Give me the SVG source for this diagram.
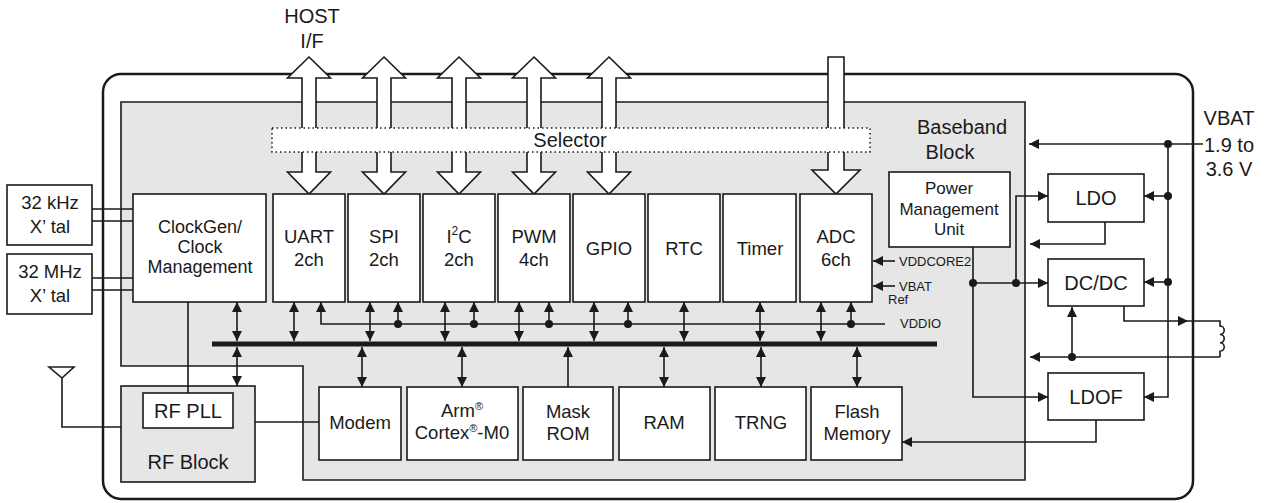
<svg xmlns="http://www.w3.org/2000/svg" width="1267" height="503" viewBox="0 0 1267 503">
<defs>
<style>
text{font-family:"Liberation Sans",Arial,sans-serif;fill:#1a1a1a;text-anchor:middle}
.b{fill:#fff;stroke:#1a1a1a;stroke-width:1.6}
.g{fill:#e6e6e6;stroke:#1a1a1a;stroke-width:1.6}
.w{fill:none;stroke:#1a1a1a;stroke-width:1.6}
.a{fill:none;stroke:#1a1a1a;stroke-width:1.6;marker-end:url(#ah)}
.d{fill:none;stroke:#1a1a1a;stroke-width:1.6;marker-start:url(#ah);marker-end:url(#ah)}
.h{fill:#fff;stroke:#1a1a1a;stroke-width:1.6;stroke-linejoin:miter}
.t19{font-size:18.5px}
.t18{font-size:18px}
.t20{font-size:20px}
.t17{font-size:17px}
.t13{font-size:13px;text-anchor:start}
.dot{fill:#1a1a1a}
</style>
<marker id="ah" viewBox="0 0 10 10" refX="10" refY="5" markerWidth="11" markerHeight="10" markerUnits="userSpaceOnUse" orient="auto-start-reverse">
<path d="M0,0 L10,5 L0,10 z" fill="#1a1a1a"/>
</marker>
</defs>

<!-- outer chip border -->
<rect x="103" y="74" width="1090" height="425" rx="18" ry="18" fill="#fff" stroke="#1a1a1a" stroke-width="2.5"/>

<!-- baseband block -->
<g id="baseband">
<path class="g" d="M121,102 H1025 V480 H303 V366 H121 Z"/>
<text class="t20" x="962" y="134">Baseband</text>
<text class="t20" x="950" y="159">Block</text>
</g>

<!-- host I/F hollow arrows -->
<g id="host-arrows">
<polygon class="h" points="309,57 330.5,78 316,78 316,172 330.5,172 309,194 287.5,172 302,172 302,78 287.5,78"/>
<polygon class="h" points="384,57 405.5,78 391,78 391,172 405.5,172 384,194 362.5,172 377,172 377,78 362.5,78"/>
<polygon class="h" points="459,57 480.5,78 466,78 466,172 480.5,172 459,194 437.5,172 452,172 452,78 437.5,78"/>
<polygon class="h" points="534,57 555.5,78 541,78 541,172 555.5,172 534,194 512.5,172 527,172 527,78 512.5,78"/>
<polygon class="h" points="609,57 630.5,78 616,78 616,172 630.5,172 609,194 587.5,172 602,172 602,78 587.5,78"/>
<polygon class="h" points="828,57 844,57 844,170 860,170 836,194 812,170 828,170"/>
<text class="t20" x="312" y="23">HOST</text>
<text class="t20" x="312" y="48">I/F</text>
</g>

<g id="selector">
<rect x="272" y="128" width="598" height="24" fill="#fff" stroke="#1a1a1a" stroke-width="1.5" stroke-dasharray="1.5 3"/>
<text class="t20" x="570" y="147">Selector</text>
</g>

<!-- external crystals -->
<g id="xtal32k">
<rect class="b" x="7" y="185" width="85" height="60"/>
<text class="t19" x="50" y="209">32 kHz</text>
<text class="t19" x="50" y="233">X’ tal</text>
</g>
<g id="xtal32m">
<rect class="b" x="7" y="254" width="85" height="60"/>
<text class="t19" x="50" y="278">32 MHz</text>
<text class="t19" x="50" y="302">X’ tal</text>
</g>

<g id="clockgen">
<rect class="b" x="133" y="194" width="133" height="108"/>
<text class="t18" x="200" y="233">ClockGen/</text>
<text class="t18" x="200" y="253">Clock</text>
<text class="t18" x="200" y="273">Management</text>
</g>

<g id="uart"><rect class="b" x="273" y="194" width="72" height="108"/>
<text class="t19" x="309" y="243">UART</text><text class="t19" x="309" y="266">2ch</text></g>
<g id="spi"><rect class="b" x="348" y="194" width="72" height="108"/>
<text class="t19" x="384" y="243">SPI</text><text class="t19" x="384" y="266">2ch</text></g>
<g id="i2c"><rect class="b" x="423" y="194" width="72" height="108"/>
<text class="t19" x="459" y="243">I<tspan font-size="12" dy="-8">2</tspan><tspan dy="8">C</tspan></text><text class="t19" x="459" y="266">2ch</text></g>
<g id="pwm"><rect class="b" x="498" y="194" width="72" height="108"/>
<text class="t19" x="534" y="243">PWM</text><text class="t19" x="534" y="266">4ch</text></g>
<g id="gpio"><rect class="b" x="573" y="194" width="72" height="108"/>
<text class="t19" x="609" y="255">GPIO</text></g>
<g id="rtc"><rect class="b" x="648" y="194" width="72" height="108"/>
<text class="t19" x="684" y="255">RTC</text></g>
<g id="timer"><rect class="b" x="723" y="194" width="73" height="108"/>
<text class="t19" x="760" y="255">Timer</text></g>
<g id="adc"><rect class="b" x="800" y="194" width="72" height="108"/>
<text class="t19" x="836" y="243">ADC</text><text class="t19" x="836" y="266">6ch</text></g>

<g id="pmu"><rect class="b" x="889" y="172" width="121" height="75"/>
<text class="t17" x="949" y="194">Power</text>
<text class="t17" x="949" y="215">Management</text>
<text class="t17" x="949" y="235">Unit</text></g>

<g id="modem"><rect class="b" x="319" y="387" width="82" height="73"/>
<text class="t19" x="360" y="429">Modem</text></g>
<g id="arm"><rect class="b" x="407" y="387" width="111" height="73"/>
<text class="t19" x="462" y="417">Arm<tspan font-size="11" dy="-7">®</tspan></text>
<text class="t19" x="462" y="439">Cortex<tspan font-size="11" dy="-7">®</tspan><tspan dy="7">-M0</tspan></text></g>
<g id="maskrom"><rect class="b" x="523" y="387" width="90" height="73"/>
<text class="t19" x="568" y="418">Mask</text><text class="t19" x="568" y="440">ROM</text></g>
<g id="ram"><rect class="b" x="619" y="387" width="91" height="73"/>
<text class="t19" x="664" y="429">RAM</text></g>
<g id="trng"><rect class="b" x="715" y="387" width="91" height="73"/>
<text class="t19" x="761" y="429">TRNG</text></g>
<g id="flash"><rect class="b" x="811" y="387" width="91" height="73"/>
<text class="t19" x="857" y="418">Flash</text><text class="t19" x="857" y="440">Memory</text></g>

<g id="rfblock"><rect class="g" x="121" y="386" width="134" height="96"/>
<text class="t20" x="188" y="469">RF Block</text></g>
<g id="rfpll"><rect class="b" x="143" y="393" width="90" height="35"/>
<text class="t20" x="188" y="418">RF PLL</text></g>

<g id="ldo"><rect class="b" x="1048" y="174" width="96" height="48"/>
<text class="t20" x="1096" y="205">LDO</text></g>
<g id="dcdc"><rect class="b" x="1048" y="259" width="96" height="47"/>
<text class="t20" x="1096" y="290">DC/DC</text></g>
<g id="ldof"><rect class="b" x="1048" y="373" width="96" height="47"/>
<text class="t20" x="1096" y="404">LDOF</text></g>

<g id="antenna">
<polygon points="49,367 74,367 62,378" fill="#fff" stroke="#1a1a1a" stroke-width="1.6"/>
</g>

<g id="labels">
<text class="t13" x="899" y="266">VDDCORE2</text>
<text class="t13" x="899" y="291">VBAT</text>
<text class="t13" x="888" y="304">Ref</text>
<text class="t13" x="900" y="328">VDDIO</text>
<text class="t20" x="1229" y="125">VBAT</text>
<text class="t20" x="1229" y="152">1.9 to</text>
<text class="t20" x="1229" y="176">3.6 V</text>
</g>

<g id="connectors">
<path class="w" d="M92,209 H133 M92,221 H133 M92,278 H133 M92,290 H133"/>
<path class="w" d="M188,302 V393"/>
<path class="w" d="M62,378 V427 H121"/>
<path class="w" d="M255,422 H319"/>
<path d="M212,344 H937" stroke="#1a1a1a" stroke-width="5" fill="none"/>
<path class="d" d="M237,302 V341"/>
<path class="d" d="M294,302 V341"/>
<path class="d" d="M370,302 V341"/>
<path class="d" d="M445,302 V341"/>
<path class="d" d="M519,302 V341"/>
<path class="d" d="M594,302 V341"/>
<path class="d" d="M684,302 V341"/>
<path class="d" d="M760,302 V341"/>
<path class="d" d="M821,302 V341"/>
<path class="d" d="M237,347 V386"/>
<path class="d" d="M362,347 V387"/>
<path class="d" d="M462,347 V387"/>
<path class="d" d="M664,347 V387"/>
<path class="d" d="M761,347 V387"/>
<path class="d" d="M857,347 V387"/>
<path class="a" d="M568,387 V347"/>
<path class="w" d="M321,302 V324 H885" style="marker-start:url(#ah)"/>
<path class="a" d="M398,324 V302"/>
<path class="a" d="M474,324 V302"/>
<path class="a" d="M549,324 V302"/>
<path class="a" d="M628,324 V302"/>
<path class="a" d="M851,324 V302"/>
<circle class="dot" cx="398" cy="324" r="4"/>
<circle class="dot" cx="474" cy="324" r="4"/>
<circle class="dot" cx="549" cy="324" r="4"/>
<circle class="dot" cx="628" cy="324" r="4"/>
<circle class="dot" cx="851" cy="324" r="4"/>
<path class="a" d="M895,261 H873"/>
<path class="a" d="M895,286 H873"/>
<path class="a" d="M973,247 V397 H1048"/>
<path class="a" d="M973,283 H1048"/>
<path class="a" d="M1016,283 V196 H1048"/>
<circle class="dot" cx="973" cy="283" r="4"/>
<circle class="dot" cx="1016" cy="283" r="4"/>
<path class="a" d="M1105,222 V244 H1030"/>
<path class="a" d="M1124,306 V321 H1188"/>
<path class="w" d="M1188,321 H1220 V326 a4.2,4.2 0 0 1 0,8.4 a4.2,4.2 0 0 1 0,8.4 a4.2,4.2 0 0 1 0,8.4 V357"/>
<path class="a" d="M1220,357 H1030"/>
<path class="a" d="M1072,357 V307"/>
<circle class="dot" cx="1072" cy="357" r="4"/>
<path class="a" d="M1203,144 H1029"/>
<path class="a" d="M1168,144 V397 H1144"/>
<path class="a" d="M1168,196 H1144"/>
<path class="a" d="M1168,282 H1144"/>
<circle class="dot" cx="1168" cy="144" r="4"/>
<circle class="dot" cx="1168" cy="196" r="4"/>
<circle class="dot" cx="1168" cy="282" r="4"/>
<path class="a" d="M1096,420 V442 H902"/>
</g>
</svg>
